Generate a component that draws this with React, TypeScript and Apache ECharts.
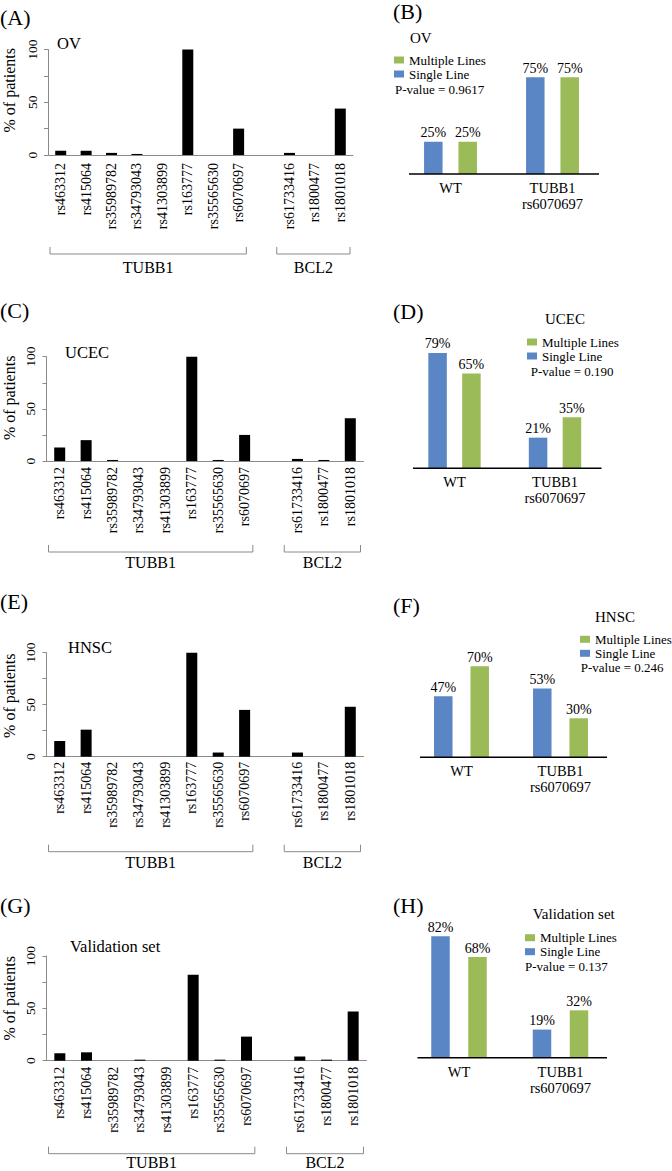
import React, { useEffect, useRef } from 'react';
import * as echarts from 'echarts';

// ---------- data ----------
const snpLabels = ['rs463312', 'rs415064', 'rs35989782', 'rs34793043', 'rs41303899', 'rs163777', 'rs35565630', 'rs6070697', '', 'rs61733416', 'rs1800477', 'rs1801018'];
const ovValues = [4, 4, 2, 1, 0, 100, 0, 25, null, 2, 0, 44];
const ucecValues = [13, 20, 1, 0, 0, 100, 1, 25, null, 2, 1, 41];
const hnscValues = [15, 26, 0, 0, 0, 100, 4, 45, null, 4, 0, 48];
const validationValues = [7, 8, 0, 1, 0, 82, 1, 23, null, 4, 1, 47];
const yTickLabels = [0, 50, 100];
const yAxisTitle = '% of patients';

const groupCategories = ['WT', 'TUBB1\nrs6070697'];
const ovSingle = [25, 75];
const ovMultiple = [25, 75];
const ucecSingle = [79, 21];
const ucecMultiple = [65, 35];
const hnscSingle = [47, 53];
const hnscMultiple = [70, 30];
const valSingle = [82, 19];
const valMultiple = [68, 32];
const pValues = ['0.9617', '0.190', '0.246', '0.137'];
const seriesNames = ['Multiple Lines', 'Single Line'];
const geneGroups = [
  { name: 'TUBB1', from: 0, to: 7 },
  { name: 'BCL2', from: 9, to: 11 },
];

// ---------- layout / style ----------
const FONT = 'Liberation Serif';
const BLUE = '#5B86C5';
const GREEN = '#9BBB59';
const GRAY = '#8a8a8a';

const leftPanels = [
  { letter: '(A)', letterY: 17, title: 'OV', titleX: 57, titleY: 43, values: ovValues, grid: { left: 48, top: 49.5, width: 305, height: 105.5 }, labelMargin: 8, bracketOffset: 99, bracketLabel: 13, nameShift: 12 },
  { letter: '(C)', letterY: 310, title: 'UCEC', titleX: 65, titleY: 352.5, values: ucecValues, grid: { left: 46.5, top: 356.7, width: 317, height: 104.3 }, labelMargin: 6, bracketOffset: 91, bracketLabel: 10.5, nameShift: 11 },
  { letter: '(E)', letterY: 601, title: 'HNSC', titleX: 68, titleY: 647, values: hnscValues, grid: { left: 46.5, top: 652.7, width: 317, height: 104 }, labelMargin: 5, bracketOffset: 95, bracketLabel: 10.5, nameShift: 9 },
  { letter: '(G)', letterY: 905, title: 'Validation set', titleX: 70, titleY: 946.5, values: validationValues, grid: { left: 46.5, top: 956, width: 320, height: 104.7 }, labelMargin: 6, bracketOffset: 93, bracketLabel: 8.5, nameShift: 10 },
];

const rightPanels = [
  { letter: '(B)', letterY: 11.7, title: 'OV', titleX: 410, titleY: 38, legendLeft: 394, legendTop: 53, pX: 395, pY: 89, single: ovSingle, multiple: ovMultiple, p: pValues[0], grid: { left: 399.5, top: 45, width: 204, height: 129 }, barGap: '86%' },
  { letter: '(D)', letterY: 311.7, title: 'UCEC', titleX: 545, titleY: 319, legendLeft: 527, legendTop: 335, pX: 530.7, pY: 371, single: ucecSingle, multiple: ucecMultiple, p: pValues[1], grid: { left: 404.25, top: 322.3, width: 201, height: 146 }, barGap: '83%' },
  { letter: '(F)', letterY: 605, title: 'HNSC', titleX: 595, titleY: 617, legendLeft: 580, legendTop: 632.3, pX: 580.7, pY: 667.3, single: hnscSingle, multiple: hnscMultiple, p: pValues[2], grid: { left: 412, top: 627.3, width: 198, height: 130 }, barGap: '97%' },
  { letter: '(H)', letterY: 905, title: 'Validation set', titleX: 532.7, titleY: 914, legendLeft: 525, legendTop: 930.7, pX: 525, pY: 966, single: valSingle, multiple: valMultiple, p: pValues[3], grid: { left: 408.25, top: 909.7, width: 203, height: 148 }, barGap: '100%' },
];

function textEl(text: string, x: number, y: number, size: number, align = 'left', rotation = 0) {
  return {
    type: 'text',
    x,
    y,
    rotation,
    silent: true,
    style: {
      text,
      fill: '#000',
      fontSize: size,
      fontFamily: FONT,
      align,
      verticalAlign: 'middle',
    },
  };
}

export default function App() {
  const ref = useRef<HTMLDivElement>(null);

  useEffect(() => {
    if (!ref.current) return;
    const chart = echarts.init(ref.current, null, { renderer: 'svg' });

    const grids: any[] = [];
    const xAxes: any[] = [];
    const yAxes: any[] = [];
    const series: any[] = [];

    leftPanels.forEach((p, i) => {
      grids.push({ ...p.grid, containLabel: false });
      xAxes.push({
        type: 'category',
        gridIndex: i,
        data: snpLabels,
        axisLine: { show: true, lineStyle: { color: GRAY, width: 1 } },
        axisTick: { show: false },
        axisLabel: { rotate: 90, interval: 0, margin: p.labelMargin, fontFamily: FONT, fontSize: 14, color: '#000' },
      });
      yAxes.push({
        type: 'value',
        gridIndex: i,
        min: 0,
        max: 100,
        interval: 25,
        axisLine: { show: true, lineStyle: { color: GRAY, width: 1 } },
        axisTick: { show: true, length: 4, lineStyle: { color: GRAY } },
        splitLine: { show: false },
        axisLabel: {
          rotate: 90,
          margin: 9,
          fontFamily: FONT,
          fontSize: 13.5,
          color: '#000',
          formatter: (v: number) => (yTickLabels.includes(v) ? String(v) : ''),
        },
      });
      series.push({
        type: 'bar',
        name: p.title + ' SNP',
        xAxisIndex: i,
        yAxisIndex: i,
        data: p.values,
        barWidth: 11,
        itemStyle: { color: '#000' },
        silent: true,
      });
    });

    rightPanels.forEach((p, j) => {
      const i = j + 4;
      grids.push({ ...p.grid, containLabel: false });
      xAxes.push({
        type: 'category',
        gridIndex: i,
        data: groupCategories,
        axisLine: { show: false },
        axisTick: { show: false },
        axisLabel: { interval: 0, margin: 6, fontFamily: FONT, fontSize: 14.5, lineHeight: 16, color: '#000' },
      });
      yAxes.push({ type: 'value', gridIndex: i, min: 0, max: 100, show: false, splitLine: { show: false } });
      const label = { show: true, position: 'top', distance: 2, formatter: '{c}%', fontFamily: FONT, fontSize: 14, color: '#000' };
      series.push({
        type: 'bar', name: 'Single Line', xAxisIndex: i, yAxisIndex: i, data: p.single,
        barWidth: 18.5, barGap: p.barGap, itemStyle: { color: BLUE }, label,
      });
      series.push({
        type: 'bar', name: 'Multiple Lines', xAxisIndex: i, yAxisIndex: i, data: p.multiple,
        barWidth: 18.5, barGap: p.barGap, itemStyle: { color: GREEN }, label,
      });
    });

    const legends = rightPanels.map((p) => ({
      data: seriesNames,
      orient: 'vertical',
      left: p.legendLeft,
      top: p.legendTop,
      padding: 0,
      itemWidth: 10,
      itemHeight: 7,
      itemGap: 0,
      icon: 'rect',
      selectedMode: false,
      textStyle: { fontFamily: FONT, fontSize: 13, color: '#000', lineHeight: 14, padding: [0, 0, 0, 0] },
    }));

    chart.setOption({
      animation: false,
      backgroundColor: '#fff',
      grid: grids,
      xAxis: xAxes,
      yAxis: yAxes,
      series,
      legend: legends,
      tooltip: { show: false },
    });

    const graphics: any[] = [];
    leftPanels.forEach((p, i) => {
      graphics.push(textEl(p.letter, 0, p.letterY, 22));
      graphics.push(textEl(p.title, p.titleX, p.titleY, 16.5));
      const c0 = chart.convertToPixel({ xAxisIndex: i } as any, 0) as number;
      const c1 = chart.convertToPixel({ xAxisIndex: i } as any, 1) as number;
      const band = c1 - c0;
      const y0 = chart.convertToPixel({ yAxisIndex: i } as any, 0) as number;
      const y100 = chart.convertToPixel({ yAxisIndex: i } as any, 100) as number;
      // y-axis title, rotated, slightly above the axis middle as in the reference
      graphics.push(textEl(yAxisTitle, 9, (y0 + y100) / 2 - p.nameShift, 16, 'center', Math.PI / 2));
      const by = y0 + p.bracketOffset;
      geneGroups.forEach((g, gi) => {
        const cf = chart.convertToPixel({ xAxisIndex: i } as any, g.from) as number;
        const ct = chart.convertToPixel({ xAxisIndex: i } as any, g.to) as number;
        const x1 = cf - band / 2 + (gi === 0 ? 2 : 0);
        const x2 = ct + band / 2 - (gi === 0 ? 5 : 3);
        graphics.push({
          type: 'polyline',
          silent: true,
          shape: { points: [[x1, by - 7], [x1, by], [x2, by], [x2, by - 7]] },
          style: { stroke: GRAY, lineWidth: 1, fill: 'none' },
        });
        graphics.push(textEl(g.name, (x1 + x2) / 2, by + p.bracketLabel, 16, 'center'));
      });
    });
    rightPanels.forEach((p, j) => {
      const i = j + 4;
      graphics.push(textEl(p.letter, 393, p.letterY, 22));
      graphics.push(textEl(p.title, p.titleX, p.titleY, 15));
      graphics.push(textEl('P-value = ' + p.p, p.pX, p.pY, 13));
      // baseline (axis line) spanning the two groups
      const cWT = chart.convertToPixel({ xAxisIndex: i } as any, 0) as number;
      const cMut = chart.convertToPixel({ xAxisIndex: i } as any, 1) as number;
      const y0 = chart.convertToPixel({ yAxisIndex: i } as any, 0) as number;
      graphics.push({
        type: 'line',
        silent: true,
        z: 10,
        shape: { x1: cWT - 41.5, y1: y0, x2: cMut + 46.5, y2: y0 },
        style: { stroke: '#000', lineWidth: 1.5 },
      });
    });
    chart.setOption({ graphic: graphics });

    return () => chart.dispose();
  }, []);

  return (
    <div
      ref={ref}
      style={{ position: 'absolute', left: 0, top: 0, width: 672, height: 1171, background: '#fff' }}
    />
  );
}
